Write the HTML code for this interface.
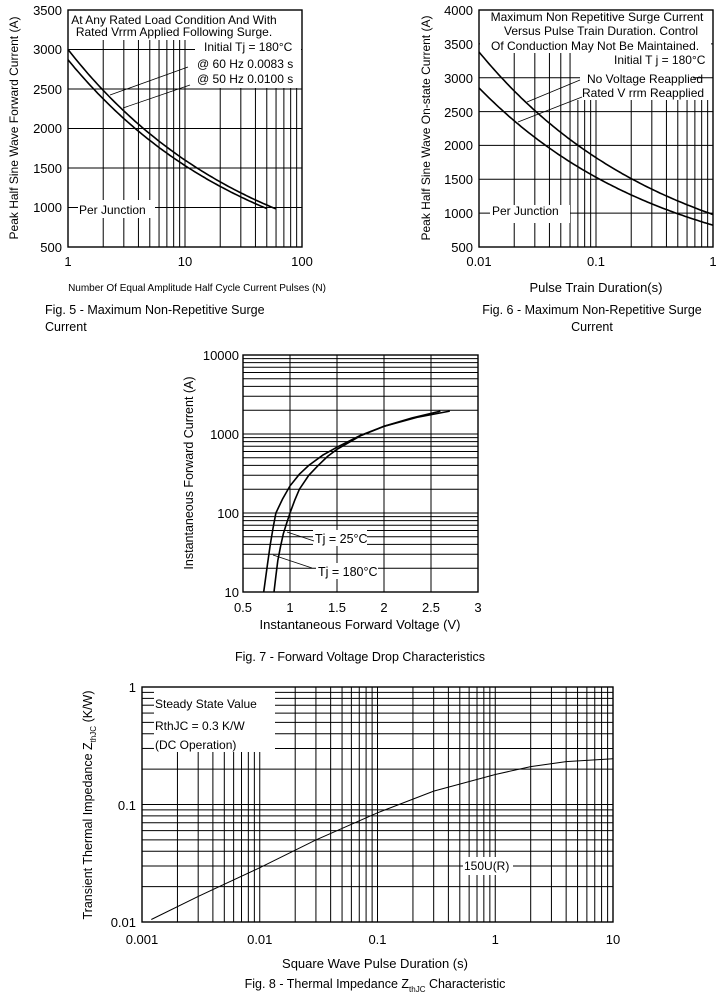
<!DOCTYPE html>
<html><head><meta charset="utf-8"><style>
html,body{margin:0;padding:0;background:#fff;}
svg{display:block;font-family:"Liberation Sans",Arial,sans-serif;}
</style></head><body>
<svg id="s" width="717" height="1004" xmlns="http://www.w3.org/2000/svg"></svg>
<script>
const S=document.getElementById('s');let h='';
const L=(x1,y1,x2,y2,w)=>{h+=`<line x1="${x1}" y1="${y1}" x2="${x2}" y2="${y2}" stroke="#000" stroke-width="${w||1}"/>`;};
const T=(x,y,t,sz,a,extra)=>{h+=`<text x="${x}" y="${y}" font-size="${sz||12}" text-anchor="${a||'start'}" ${extra||''}>${t}</text>`;};
const R=(x,y,w,hh)=>{h+=`<rect x="${x}" y="${y}" width="${w}" height="${hh}" fill="#fff"/>`;};
const P=(pts,w)=>{h+=`<polyline fill="none" stroke="#000" stroke-width="${w||1.6}" points="${pts.map(p=>p[0].toFixed(1)+','+p[1].toFixed(1)).join(' ')}"/>`;};
const lg=Math.log10;

// ---------- Fig 5 ----------
{const x0=68,x1=302,y0=10,y1=247,dx=117;
const X=n=>x0+dx*lg(n),Y=v=>y1-(v-500)*(y1-y0)/3000;
for(let d=1;d<=10;d*=10)for(let k=2;k<=9;k++){const x=X(k*d);L(x,d==1?40:88,x,y1);}
L(X(10),40,X(10),y1);
for(let v=1000;v<=3000;v+=500)L(x0,Y(v),x1,Y(v));
R(69,11,230,29);R(195,41,106,15);R(190,56,105,30);R(78,200,77,18);
h+=`<rect x="${x0}" y="${y0}" width="${x1-x0}" height="${y1-y0}" fill="none" stroke="#000" stroke-width="1.4"/>`;
let a=[],b=[];for(let n=1;n<=60;n*=1.05)a.push([X(n),Y(3000*Math.pow(n,-0.273))]);a.push([X(60),Y(982)]);
for(let n=1;n<=50;n*=1.05)b.push([X(n),Y(2870*Math.pow(n,-0.273))]);b.push([X(50),Y(987)]);
P(a);P(b);
L(110,95,188,67,0.8);L(123,108,190,85,0.8);
T(174,24,'At Any Rated Load Condition And With',12,'middle');T(174,36,'Rated Vrrm Applied Following Surge.',12,'middle');
T(204,51,'Initial Tj = 180°C',12);T(197,68,'@ 60 Hz 0.0083 s',12);T(197,83,'@ 50 Hz 0.0100 s',12);
T(79,214,'Per Junction',12);
[[3500,10],[3000,49],[2500,89],[2000,128],[1500,168],[1000,207],[500,247]].forEach(([v,y])=>T(62,y+5,v,13,'end'));
T(68,266,'1',13,'middle');T(185,266,'10',13,'middle');T(302,266,'100',13,'middle');
T(18,128,'Peak Half Sine Wave Forward Current (A)',12,'middle','transform="rotate(-90 18 128)"');
T(197,291,'Number Of Equal Amplitude Half Cycle Current Pulses (N)',10,'middle');
T(45,314,'Fig.  5 - Maximum Non-Repetitive Surge',12.5);T(45,331,'Current',12.5);}

// ---------- Fig 6 ----------
{const x0=479,x1=713,y0=10,y1=247,dx=117;
const X=n=>x0+dx*(lg(n)+2),Y=v=>y1-(v-500)*(y1-y0)/3500;
for(let d=0.01;d<=0.1;d*=10)for(let k=2;k<=9;k++){const x=X(k*d);L(x,x>575?100:53,x,y1);}
L(X(0.1),100,X(0.1),y1);
for(let v=1000;v<=3500;v+=500)L(x0,Y(v),x1,Y(v));
R(480,11,231,42);R(491,38,220,15);R(575,53,136,15);R(580,68,113,32);R(490,205,80,18);
h+=`<rect x="${x0}" y="${y0}" width="${x1-x0}" height="${y1-y0}" fill="none" stroke="#000" stroke-width="1.4"/>`;
let a=[],b=[];for(let n=0.01;n<=1.0001;n*=1.05){a.push([X(n),Y(3380*Math.pow(n/0.01,-0.269))]);b.push([X(n),Y(2850*Math.pow(n/0.01,-0.27))]);}
a.push([X(1),Y(980)]);b.push([X(1),Y(820)]);P(a);P(b);
L(527,102,580,80,0.8);L(518,122,582,97,0.8);
T(597,21,'Maximum Non Repetitive Surge Current',12,'middle');T(504,35,'Versus Pulse Train Duration. Control',12);
T(491,50,'Of Conduction May Not Be Maintained.',12);T(614,64,'Initial T j = 180°C',12);
T(587,83,'No Voltage Reapplied',12);T(582,97,'Rated V rrm Reapplied',12);T(492,215,'Per Junction',12);
[[4000,10],[3500,44],[3000,78],[2500,112],[2000,145],[1500,179],[1000,213],[500,247]].forEach(([v,y])=>T(473,y+5,v,13,'end'));
T(479,266,'0.01',13,'middle');T(596,266,'0.1',13,'middle');T(713,266,'1',13,'middle');
T(430,128,'Peak Half Sine Wave On-state Current (A)',12,'middle','transform="rotate(-90 430 128)"');
T(596,292,'Pulse Train Duration(s)',13,'middle');
T(592,314,'Fig. 6 - Maximum Non-Repetitive Surge',12.5,'middle');T(592,331,'Current',12.5,'middle');}

// ---------- Fig 7 ----------
{const x0=243,x1=478,y0=355,y1=592,dy=79;
const X=v=>x0+(v-0.5)*(x1-x0)/2.5,Y=i=>y1-dy*(lg(i)-1);
for(let d=10;d<=1000;d*=10)for(let k=1;k<=9;k++)L(x0,Y(k*d),x1,Y(k*d));
for(let v=1;v<=2.5;v+=0.5)L(X(v),y0,X(v),y1);
R(313,530,54,16);R(316,563,62,16);
h+=`<rect x="${x0}" y="${y0}" width="${x1-x0}" height="${y1-y0}" fill="none" stroke="#000" stroke-width="1.4"/>`;
const A=[[0.72,10],[0.74,15],[0.76,22],[0.79,40],[0.82,65],[0.85,100],[0.92,150],[1.0,220],[1.1,310],[1.2,400],[1.35,540],[1.5,680],[1.75,960],[2.0,1250],[2.3,1600],[2.6,1950]];
const B=[[0.83,10],[0.85,16],[0.87,25],[0.9,38],[0.93,55],[0.97,78],[1.0,100],[1.05,145],[1.1,200],[1.2,300],[1.3,400],[1.4,520],[1.5,640],[1.75,950],[2.0,1250],[2.35,1620],[2.7,1950]];
P(A.map(p=>[X(p[0]),Y(p[1])]));P(B.map(p=>[X(p[0]),Y(p[1])]));
L(287,532,314,541,0.8);L(273,555,312,568,0.8);
T(315,543,'Tj = 25°C',12.5);T(318,576,'Tj = 180°C',12.5);
[[10000,355],[1000,434],[100,513],[10,592]].forEach(([v,y])=>T(239,y+5,v,13,'end'));
['0.5','1','1.5','2','2.5','3'].forEach((t,i)=>T(x0+i*47,612,t,13,'middle'));
T(193,473,'Instantaneous Forward Current (A)',12.5,'middle','transform="rotate(-90 193 473)"');
T(360,629,'Instantaneous Forward Voltage (V)',13,'middle');
T(360,661,'Fig. 7 - Forward Voltage Drop Characteristics',12.5,'middle');}

// ---------- Fig 8 ----------
{const x0=142,x1=613,y0=687,y1=922,dx=117.75,dy=117.5;
const X=t=>x0+dx*(lg(t)+3),Y=z=>y1-dy*(lg(z)+2);
for(let d=0.01;d<=0.1;d*=10)for(let k=1;k<=9;k++){const y=Y(k*d);if(y<752){L(x0,y,154,y);L(275,y,x1,y);}else L(x0,y,x1,y);}
for(let d=0.001;d<=1;d*=10)for(let k=1;k<=9;k++){const x=X(k*d);L(x,x<276?752:y0,x,y1);}
R(463,857,50,18);
h+=`<rect x="${x0}" y="${y0}" width="${x1-x0}" height="${y1-y0}" fill="none" stroke="#000" stroke-width="1.4"/>`;
const C=[[0.0012,0.0105],[0.003,0.0165],[0.01,0.029],[0.03,0.05],[0.1,0.085],[0.3,0.13],[1,0.18],[2,0.21],[4,0.232],[10,0.245]];
P(C.map(p=>[X(p[0]),Y(p[1])]),1);
T(155,708,'Steady State Value',12);T(155,730,'RthJC = 0.3 K/W',12);T(155,749,'(DC Operation)',12);
T(464,870,'150U(R)',12);
[['1',687],['0.1',805],['0.01',922]].forEach(([v,y])=>T(136,y+5,v,13,'end'));
['0.001','0.01','0.1','1','10'].forEach((t,i)=>T(x0+i*dx,944,t,13,'middle'));
h+=`<text x="92" y="805" font-size="12.5" text-anchor="middle" transform="rotate(-90 92 805)">Transient Thermal Impedance Z<tspan font-size="8" dy="4">thJC</tspan><tspan dy="-4"> (K/W)</tspan></text>`;
T(375,968,'Square Wave Pulse Duration (s)',13,'middle');
h+=`<text x="375" y="988" font-size="12.5" text-anchor="middle">Fig. 8 - Thermal Impedance Z<tspan font-size="8" dy="4">thJC</tspan><tspan dy="-4"> Characteristic</tspan></text>`;}
S.innerHTML=h;
</script>
</body></html>
